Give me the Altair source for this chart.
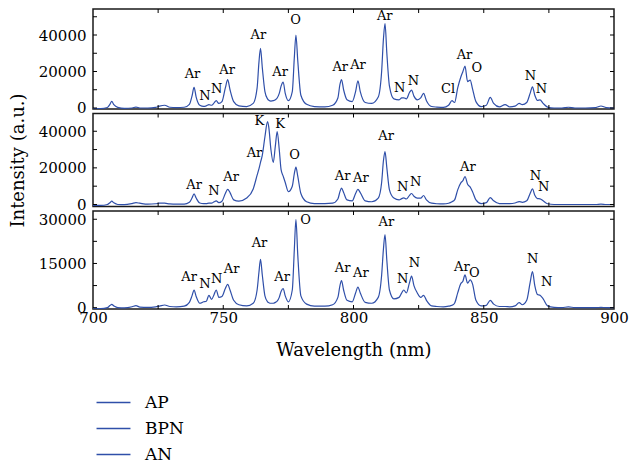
import altair as alt
import pandas as pd

# shared wavelength grid (nm)
wl = [700, 703, 705.5, 706.5, 707.2, 708, 709.5, 712, 715, 716.5, 718, 721, 724, 725.5, 727.5,
      729.5, 732, 735, 737, 738, 738.8, 739.6, 741, 742.5, 743.5, 744.5, 745.5, 746.5, 747.3,
      748.3, 749.5, 750.8, 751.7, 752.6, 754, 756, 759, 761.5, 763, 763.7, 764.3, 765, 766.0,
      767.0, 767.5, 768.3, 769.2, 770.0, 770.7, 771.5, 772.2, 773.0, 773.8, 775.0, 776.5, 777.3,
      777.9, 778.6, 779.8, 782, 785, 789, 792, 794, 794.8, 795.4, 796.2, 797.5, 799.5, 800.8,
      801.7, 802.6, 804.5, 807, 809.5, 810.8, 811.5, 812.1, 812.8, 813.8, 815.5, 817.5, 818.5,
      819.3, 820.3, 821.5, 822.3, 823.2, 824.5, 825.8, 826.9, 828, 830, 832, 834.5, 836.5, 837.8,
      838.8, 840, 841.2, 842.0, 842.8, 843.8, 844.8, 845.7, 847, 849, 851, 852.5, 853.8, 856,
      858.2, 860, 862, 863.6, 864.8, 866.5, 867.8, 868.7, 869.6, 870.6, 871.6, 872.8, 874.5, 877,
      880, 882.5, 885, 889, 893, 895, 897, 900]

ap = [-300, -300, 300, 2000, 3600, 1800, 300, -200, 0, 500, 0, 0, 300, 1000, 1500,
      400, 200, 400, 2000, 6500, 11300, 6000, 1500, 900, 1200, 1800, 1500, 2800, 4000,
      2500, 3500, 11000, 15500, 10000, 3500, 1200, 800, 2500, 11000, 25000, 32700, 22000, 9000,
      5000, 4200, 3800, 4000, 4500, 5500, 8000, 12000, 14200, 8000, 4000, 9000, 28000,
      40000, 26000, 7000, 2000, 800, 600, 1500, 5500, 13000, 15600, 10000, 4500, 3500, 9000,
      14900, 9000, 3000, 2500, 6000, 20000, 38000, 46200, 30000, 12000, 5000, 4500, 5500,
      5600, 5000, 8500, 9800, 6500, 4500, 5500, 8000, 4000, 800, 500, 300, 1500, 4000,
      3000, 11000, 17000, 20000, 22900, 14500, 15300, 10500, 3500, 800, 1500, 5800, 2500, 600,
      1800, 600, 1000, 2500, 1800, 3000, 8000, 11600, 7000, 4200, 4400, 2500, 500, 0,
      0, 400, 0, 0, 200, 1100, 200, 0]

bpn = [-500, -500, 0, 1000, 1800, 900, 0, -100, 500, 1000, 700, 200, 400, 700, 700,
       300, 200, 200, 1200, 3500, 5800, 3500, 800, 500, 500, 700, 700, 1500, 2000,
       1000, 1800, 6000, 8200, 6500, 2500, 1800, 3500, 8500, 16000, 19500, 23000, 27000, 37000,
       45300, 42000, 30000, 23000, 32000, 39800, 30000, 19000, 15500, 12000, 7000, 10000, 17000,
       20400, 15500, 6000, 1500, 500, 500, 700, 3000, 7000, 8900, 6500, 2500, 2000, 6000,
       8200, 6500, 2000, 1500, 3500, 12000, 24000, 28900, 20000, 8000, 3500, 2500, 3200,
       3600, 3000, 5000, 6000, 4500, 3500, 3500, 4900, 2500, 700, 400, 300, 700, 1500,
       2500, 8000, 11800, 13000, 15300, 11000, 9500, 7000, 2500, 500, 1000, 3800, 2000, 500,
       500, 500, 800, 1600, 1200, 2000, 6000, 8500, 5000, 3200, 3100, 2000, 400, 0,
       0, 0, 0, 0, 0, 200, 0, 0]

an = [-300, -300, 0, 700, 1100, 600, 0, -100, 300, 700, 200, 100, 300, 500, 900,
      400, 300, 500, 1800, 4000, 6000, 3800, 1500, 2000, 2200, 4200, 2800, 4500, 6000,
      3500, 3800, 6500, 7900, 6000, 2500, 1000, 600, 1500, 6000, 12000, 16400, 11000, 4000,
      2000, 1700, 1500, 1500, 1800, 2200, 3500, 5500, 6500, 4000, 2000, 6000, 20000,
      29900, 18000, 4000, 1200, 500, 500, 1000, 3500, 7500, 9200, 6000, 2500, 2000, 5000,
      7000, 5000, 1800, 1500, 3500, 11000, 20000, 24800, 16000, 6000, 3000, 3500, 5000,
      6000, 5000, 8500, 10700, 7500, 5000, 3500, 4200, 2500, 600, 400, 300, 500, 800,
      1500, 5000, 8200, 9000, 11100, 8300, 9400, 8000, 2500, 600, 800, 2500, 1200, 400,
      400, 300, 600, 1700, 1000, 2500, 8500, 12200, 7500, 4500, 4200, 3000, 600, 100,
      0, 300, 0, 0, 0, 100, 0, 0]

# peak annotations: wavelength, intensity (label centre), text
lab1_x = [738.2, 743.0, 747.5, 751.5, 763.5, 771.8, 777.8, 794.9, 801.7, 812.0, 817.7, 823.0,
          836.3, 842.6, 847.3, 867.9, 872.1]
lab1_y = [18600, 6600, 10400, 20800, 39800, 19900, 48000, 22500, 23600, 50400, 10800, 14800,
          10200, 28900, 22100, 17500, 10200]
lab1_t = ["Ar", "N", "N", "Ar", "Ar", "Ar", "O", "Ar", "Ar", "Ar", "N", "N",
          "Cl", "Ar", "O", "N", "N"]

lab2_x = [738.8, 746.4, 753.0, 762.0, 763.9, 771.8, 777.4, 795.8, 802.8, 812.5, 818.9, 823.9,
          843.9, 869.8, 873.0]
lab2_y = [10900, 7600, 14900, 28200, 45800, 44000, 27100, 15300, 14400, 37300, 9800, 12200,
          20700, 15800, 9500]
lab2_t = ["Ar", "N", "Ar", "Ar", "K", "K", "O", "Ar", "Ar", "Ar", "N", "N", "Ar", "N", "N"]

lab3_x = [736.9, 743.0, 747.5, 753.2, 763.9, 772.6, 781.6, 795.8, 802.8, 812.6, 818.9, 823.4,
          841.6, 846.4, 868.8, 874.2]
lab3_y = [10400, 8200, 9800, 13000, 21800, 10400, 29900, 13300, 11800, 29000, 9800, 15000,
          13800, 11600, 16600, 8700]
lab3_t = ["Ar", "N", "N", "Ar", "Ar", "Ar", "O", "Ar", "Ar", "Ar", "N", "N", "Ar", "O", "N", "N"]

series_names = ["AP", "BPN", "AN"]
xticks = [725, 750, 775, 800, 825, 850, 875]
xlabels = [700, 750, 800, 850, 900]

BLUE = "#2f4fa9"
FONT = "DejaVu Serif"
W = 521


def panel(name, vals, h, ydom, ylab, ytick, lx, ly, lt, last, ytitle):
    df = pd.DataFrame({"wl": wl, "I": vals, "series": name})
    xscale = alt.Scale(domain=[700, 900], nice=False, zero=False)
    yscale = alt.Scale(domain=ydom, nice=False, zero=False)
    if last:
        xaxis = alt.Axis(values=xlabels, title="Wavelength (nm)", labelPadding=1,
                         titlePadding=16, labelFlush=False, format="d")
    else:
        xaxis = None
    if ytitle:
        yaxis = alt.Axis(values=ylab, format="d", labelPadding=7, title=ytitle, titlePadding=11)
    else:
        yaxis = alt.Axis(values=ylab, format="d", labelPadding=7, title=None)
    X = alt.X("wl:Q", scale=xscale, axis=xaxis)
    Y = alt.Y("I:Q", scale=yscale, axis=yaxis)
    line = alt.Chart(df).mark_line(strokeWidth=1.2, clip=True, interpolate="monotone").encode(
        x=X, y=Y,
        color=alt.Color("series:N",
                        scale=alt.Scale(domain=series_names, range=[BLUE, BLUE, BLUE]),
                        legend=alt.Legend(orient="none", legendX=12, legendY=385, title=None,
                                          symbolType="M-3,0H3", symbolSize=128,
                                          symbolStrokeWidth=1.5, labelFont=FONT,
                                          labelFontSize=17, labelOffset=23, rowPadding=8,
                                          padding=0, labelColor="black")),
    )
    ydf = pd.DataFrame({"I": ytick})
    xdf = pd.DataFrame({"wl": xticks})
    tl = alt.Chart(ydf).mark_rule(color="black", strokeWidth=1).encode(
        y=Y, x=alt.value(0), x2=alt.value(4))
    tr = alt.Chart(ydf).mark_rule(color="black", strokeWidth=1).encode(
        y=Y, x=alt.value(W - 4), x2=alt.value(W))
    tt = alt.Chart(xdf).mark_rule(color="black", strokeWidth=1).encode(
        x=X, y=alt.value(0), y2=alt.value(4))
    tb = alt.Chart(xdf).mark_rule(color="black", strokeWidth=1).encode(
        x=X, y=alt.value(h - 4), y2=alt.value(h))
    ldf = pd.DataFrame({"wl": lx, "I": ly, "t": lt})
    txt = alt.Chart(ldf).mark_text(font=FONT, fontSize=13, baseline="middle", align="center",
                                   color="black").encode(x=X, y=Y, text="t:N")
    return alt.layer(line, tl, tr, tt, tb, txt).properties(width=W, height=h)


p1 = panel("AP", ap, 100, [-550, 54250], [0, 20000, 40000],
           [0, 10000, 20000, 30000, 40000, 50000], lab1_x, lab1_y, lab1_t, False, None)
p2 = panel("BPN", bpn, 93, [-1100, 49700], [0, 20000, 40000],
           [0, 10000, 20000, 30000, 40000], lab2_x, lab2_y, lab2_t, False, "Intensity (a.u.)")
p3 = panel("AN", an, 98, [-450, 32800], [0, 15000, 30000],
           [0, 7500, 15000, 22500, 30000], lab3_x, lab3_y, lab3_t, True, None)

chart = alt.vconcat(p1, p2, p3, spacing=4.5, bounds="flush").properties(
    padding={"left": 0, "top": -1, "right": 0, "bottom": 0}
).configure_view(
    stroke="#1a1a1a", strokeWidth=1.5
).configure_axis(
    labelFont=FONT, titleFont=FONT, labelFontSize=15, titleFontSize=18,
    titleFontWeight="normal", labelColor="black", titleColor="black",
    grid=False, domain=False, ticks=False
)

chart.save("out.html", embed_options={"renderer": "svg", "actions": False})
